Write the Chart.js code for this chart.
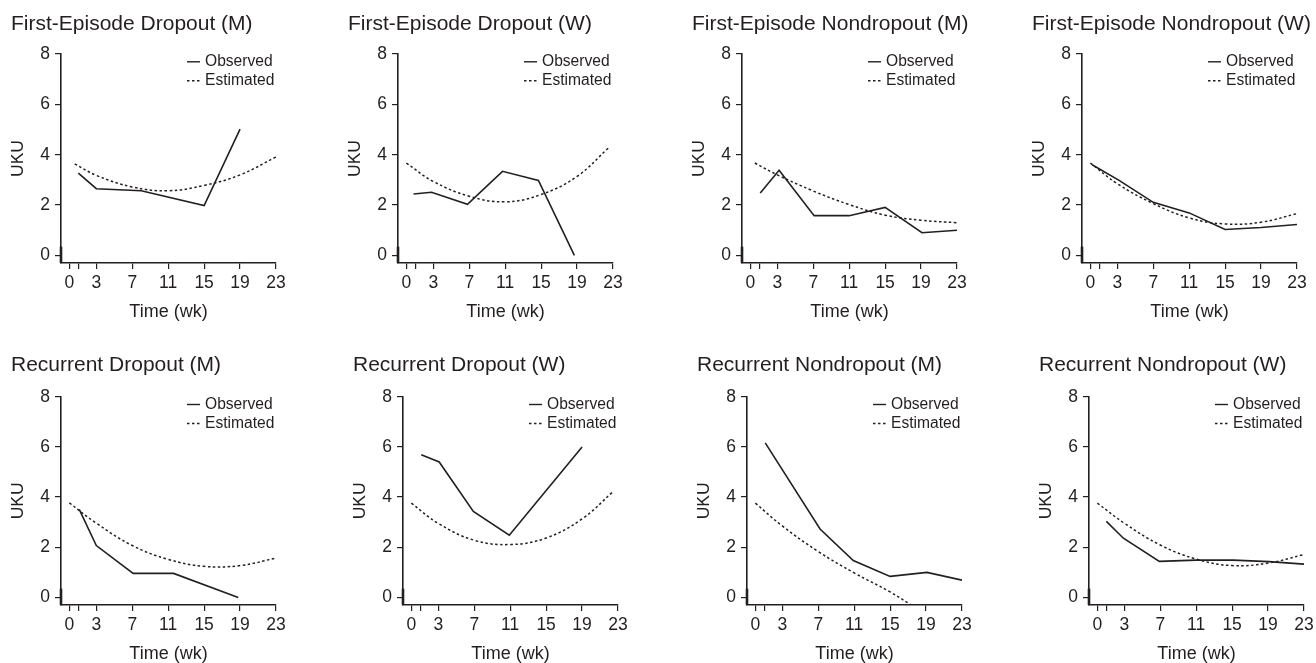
<!DOCTYPE html>
<html>
<head>
<meta charset="utf-8">
<script src="https://cdn.jsdelivr.net/npm/chart.js@4.4.1/dist/chart.umd.min.js"></script>
<style>
  html, body { margin: 0; padding: 0; background: #fff; overflow: hidden; width: 1316px; height: 663px; }
  canvas { position: absolute; }
</style>
</head>
<body>
<canvas id="p1"></canvas>
<canvas id="p2"></canvas>
<canvas id="p3"></canvas>
<canvas id="p4"></canvas>
<canvas id="p5"></canvas>
<canvas id="p6"></canvas>
<canvas id="p7"></canvas>
<canvas id="p8"></canvas>
<script>
// Ejes comunes
const weekTicks = [0, 1, 3, 7, 11, 15, 19, 23];
const ukuTicks = [0, 2, 4, 6, 8];
const seriesNames = ['Observed', 'Estimated'];

const panelTitles = [
    'First-Episode Dropout (M)', 'First-Episode Dropout (W)',
    'First-Episode Nondropout (M)', 'First-Episode Nondropout (W)',
    'Recurrent Dropout (M)', 'Recurrent Dropout (W)',
    'Recurrent Nondropout (M)', 'Recurrent Nondropout (W)'
];

// First-Episode Dropout (M)
const obsWeeks1 = [1, 3, 8, 15, 19];
const obsUku1 = [3.27, 2.65, 2.57, 1.98, 5.02];
const estWeeks1 = [0.6, 3, 7, 11, 15, 19, 23];
const estUku1 = [3.64, 3.18, 2.72, 2.57, 2.78, 3.2, 3.91];

// First-Episode Dropout (W)
const obsWeeks2 = [0.8, 2.8, 6.8, 10.7, 14.7, 18.7];
const obsUku2 = [2.44, 2.51, 2.03, 3.34, 2.98, 0];
const estWeeks2 = [0, 3, 7, 11, 15, 19, 22.5];
const estUku2 = [3.67, 2.94, 2.35, 2.13, 2.42, 3.14, 4.27];

// First-Episode Nondropout (M)
const obsWeeks3 = [1.1, 3.2, 7.1, 11, 15, 19.1, 23];
const obsUku3 = [2.48, 3.38, 1.58, 1.58, 1.91, 0.9, 1.0];
const estWeeks3 = [0.5, 3, 7, 11, 15, 19, 23];
const estUku3 = [3.67, 3.2, 2.56, 2.02, 1.6, 1.4, 1.3];

// First-Episode Nondropout (W)
const obsWeeks4 = [0.2, 3.2, 7, 11, 15, 19, 23];
const obsUku4 = [3.6, 2.98, 2.11, 1.69, 1.03, 1.11, 1.23];
const estWeeks4 = [0, 3, 7, 11, 15, 19, 23];
const estUku4 = [3.67, 2.85, 2.06, 1.49, 1.25, 1.32, 1.66];

// Recurrent Dropout (M)
const obsWeeks5 = [1.1, 3, 7.1, 11.6, 18.8];
const obsUku5 = [3.51, 2.07, 0.96, 0.96, 0];
const estWeeks5 = [0, 3, 7, 11, 15, 19, 23];
const estUku5 = [3.77, 2.96, 2.07, 1.52, 1.24, 1.27, 1.57];

// Recurrent Dropout (W)
const obsWeeks6 = [1.1, 3.1, 6.9, 10.9, 19];
const obsUku6 = [5.69, 5.4, 3.43, 2.48, 6.0];
const estWeeks6 = [0, 3, 7, 11, 15, 19, 22.4];
const estUku6 = [3.76, 2.95, 2.28, 2.11, 2.37, 3.13, 4.2];

// Recurrent Nondropout (M)
const obsWeeks7 = [1.1, 7.2, 10.9, 15, 19.1, 23];
const obsUku7 = [6.16, 2.73, 1.47, 0.84, 1.0, 0.69];
const estWeeks7 = [0, 3, 7, 11, 15, 18];
const estUku7 = [3.76, 2.85, 1.83, 0.98, 0.22, -0.45];

// Recurrent Nondropout (W)
const obsWeeks8 = [1, 2.9, 6.9, 11, 15.1, 19.1, 23];
const obsUku8 = [3.03, 2.36, 1.44, 1.49, 1.49, 1.43, 1.33];
const estWeeks8 = [0, 3, 7, 11, 15, 19, 23];
const estUku8 = [3.76, 2.96, 2.09, 1.53, 1.27, 1.37, 1.71];

const observed = [
    [obsWeeks1, obsUku1], [obsWeeks2, obsUku2], [obsWeeks3, obsUku3], [obsWeeks4, obsUku4],
    [obsWeeks5, obsUku5], [obsWeeks6, obsUku6], [obsWeeks7, obsUku7], [obsWeeks8, obsUku8]
];
const estimated = [
    [estWeeks1, estUku1], [estWeeks2, estUku2], [estWeeks3, estUku3], [estWeeks4, estUku4],
    [estWeeks5, estUku5], [estWeeks6, estUku6], [estWeeks7, estUku7], [estWeeks8, estUku8]
];

// Colocación de cada panel (borde izquierdo del área de gráfico)
const plotLefts = [61, 398, 742, 1082, 61, 403, 747, 1089];
const rowTops = [0, 330];
const plotTops = [54, 396.7];
const plotBottoms = [263, 605];
const titleCenters = [24.5, 35];
const plotWidth = 215;
const yAxisWidth = 50;
const xAxisHeight = 60;
const rightPad = 20;

const ink = '#231f20';
const fontFamily = "'Liberation Sans', Arial, Helvetica, sans-serif";
Chart.defaults.font.family = fontFamily;
Chart.defaults.color = ink;

function toPoints(weeks, values) {
    return weeks.map((w, i) => ({ x: w, y: values[i] }));
}

// Título, leyenda y el trazo grueso del eje Y
const decorPlugin = {
    id: 'decor',
    afterDraw(chart, args, opts) {
        const ctx = chart.ctx;
        const area = chart.chartArea;
        ctx.save();
        ctx.fillStyle = ink;
        ctx.textBaseline = 'middle';
        ctx.textAlign = 'left';
        ctx.font = '21px ' + fontFamily;
        ctx.fillText(opts.title, area.left - yAxisWidth, opts.titleY);

        ctx.font = '15.6px ' + fontFamily;
        chart.data.datasets.forEach((ds, i) => {
            const y = area.top + 7.8 + 19 * i;
            ctx.beginPath();
            ctx.strokeStyle = ink;
            ctx.lineWidth = 1.4;
            ctx.setLineDash(ds.borderDash || []);
            ctx.moveTo(area.right - 89, y);
            ctx.lineTo(area.right - 76, y);
            ctx.stroke();
            ctx.setLineDash([]);
            ctx.fillText(ds.label, area.right - 71, y);
        });

        const yScale = chart.scales.y;
        ctx.beginPath();
        ctx.lineWidth = 2.6;
        ctx.strokeStyle = ink;
        ctx.moveTo(area.left, yScale.getPixelForValue(0.35));
        ctx.lineTo(area.left, area.bottom);
        ctx.stroke();
        ctx.restore();
    }
};

function makePanel(i) {
    const row = i < 4 ? 0 : 1;
    const canvas = document.getElementById('p' + (i + 1));
    const left = plotLefts[i] - yAxisWidth;
    const top = rowTops[row];
    const width = yAxisWidth + plotWidth + rightPad;
    const height = plotBottoms[row] + xAxisHeight - top;
    canvas.style.left = left + 'px';
    canvas.style.top = top + 'px';
    canvas.width = width;
    canvas.height = height;

    const config = {
        type: 'line',
        data: {
            datasets: [{
                label: seriesNames[0],
                data: toPoints(observed[i][0], observed[i][1]),
                borderColor: ink,
                borderWidth: 1.6,
                pointRadius: 0,
                tension: 0,
            }, {
                label: seriesNames[1],
                data: toPoints(estimated[i][0], estimated[i][1]),
                borderColor: ink,
                borderWidth: 1.5,
                borderDash: [2.5, 2.5],
                pointRadius: 0,
                tension: 0.4,
            }],
        },
        options: {
            responsive: false,
            animation: false,
            events: [],
            layout: {
                padding: { left: 0, right: rightPad, top: plotTops[row] - top, bottom: 0 }
            },
            plugins: {
                legend: { display: false },
                tooltip: { enabled: false },
                decor: { title: panelTitles[i], titleY: titleCenters[row] }
            },
            scales: {
                x: {
                    type: 'linear',
                    min: -0.93,
                    max: 23,
                    afterBuildTicks: s => { s.ticks = weekTicks.map(v => ({ value: v })); },
                    afterFit: s => { s.height = xAxisHeight; },
                    ticks: {
                        callback: v => (v === 1 ? '' : String(v)),
                        font: { size: 17.5 },
                        color: ink,
                        padding: 4,
                        maxRotation: 0,
                        autoSkip: false,
                    },
                    grid: { drawOnChartArea: false, drawTicks: true, tickLength: 6, color: ink, lineWidth: 1.2 },
                    border: { display: true, color: ink, width: 1.6 },
                    title: { display: true, text: 'Time (wk)', font: { size: 18 }, color: ink, padding: { top: 0, bottom: 0 } },
                },
                y: {
                    type: 'linear',
                    min: -0.3,
                    max: 8,
                    afterBuildTicks: s => { s.ticks = ukuTicks.map(v => ({ value: v })); },
                    afterFit: s => { s.width = yAxisWidth; },
                    ticks: {
                        callback: v => String(v),
                        font: { size: 17.5 },
                        color: ink,
                        padding: 5,
                    },
                    grid: { drawOnChartArea: false, drawTicks: true, tickLength: 6, color: ink, lineWidth: 1.2 },
                    border: { display: true, color: ink, width: 1.6 },
                    title: { display: true, text: 'UKU', font: { size: 17.5, lineHeight: 0.84 }, color: ink, padding: 0 },
                },
            },
        },
        plugins: [decorPlugin],
    };

    new Chart(canvas.getContext('2d'), config);
}

for (let i = 0; i < 8; i++) {
    makePanel(i);
}
</script>
</body>
</html>
